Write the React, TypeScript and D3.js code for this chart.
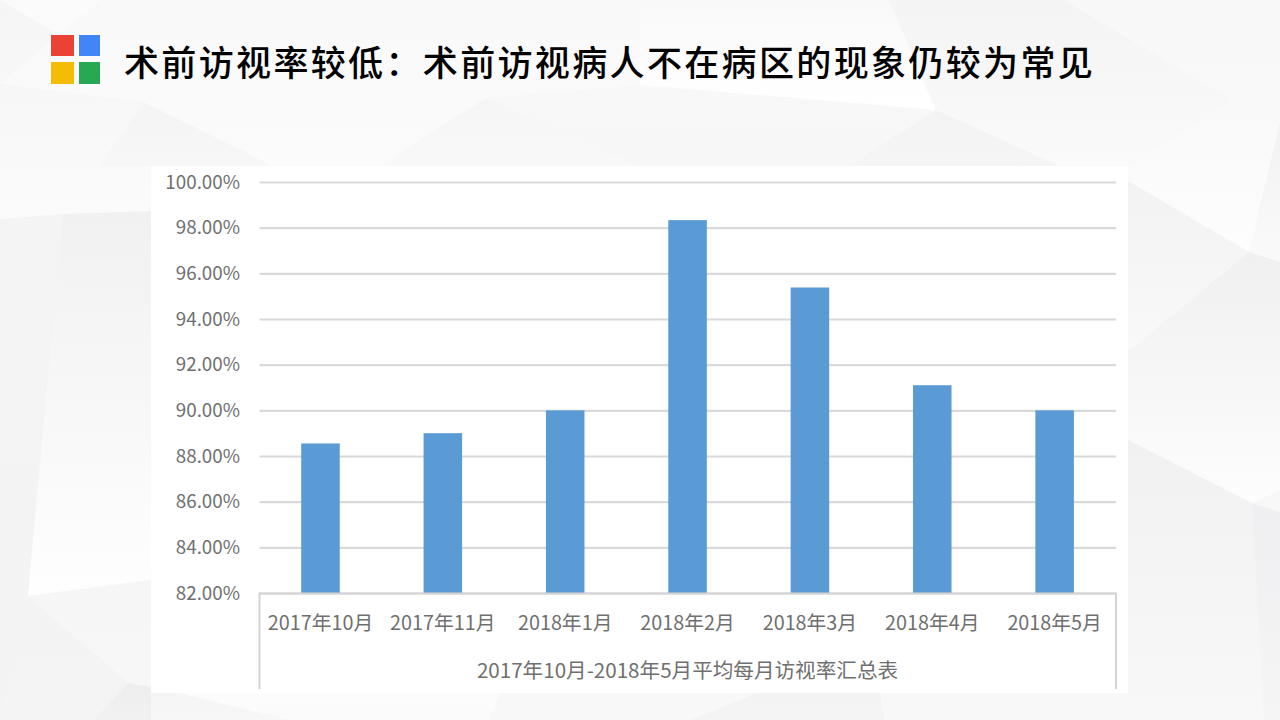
import { useEffect, useRef } from "react";
import * as d3 from "d3";

const categories = ["2017年10月", "2017年11月", "2018年1月", "2018年2月", "2018年3月", "2018年4月", "2018年5月"];
const rates = [88.55, 89.0, 90.0, 98.33, 95.38, 91.1, 90.0];
const yTicks = [82, 84, 86, 88, 90, 92, 94, 96, 98, 100];
const groupLabel = "2017年10月-2018年5月平均每月访视率汇总表";
const title = "术前访视率较低\uFF1A术前访视病人不在病区的现象仍较为常见";

// faint low-poly shapes of the slide background: top colour, bottom colour, points
const bgShapes: [string, string, string][] = [
  ["#fbfbfb", "#fbfbfb", "0,0 102,0 59,35"],
  ["#f5f5f6", "#f8f8f8", "0,0 59,35 0,84"],
  ["#f9f9f9", "#fbfbfb", "0,84 59,35 102,0 640,0 640,85 486,98 380,166 273,166 143,102"],
  ["#f7f7f7", "#fbfbfb", "0,84 143,102 273,166 151,166 151,211 0,219"],
  ["#f4f4f5", "#f7f7f7", "143,102 273,166 151,166 100,166"],
  ["#f5f5f6", "#f9f9f9", "486,98 640,166 380,166"],
  ["#f8f8f8", "#f7f7f7", "486,98 640,85 936,110 850,166 640,166"],
  ["#f9f9f9", "#ffffff", "640,0 889,0 936,110 640,85"],
  ["#f3f3f4", "#f5f5f6", "936,110 1060,166 850,166"],
  ["#f4f4f5", "#fafafa", "889,0 1064,0 1232,100 1128,166 1060,166 936,110"],
  ["#f8f8f8", "#f9f9f9", "1064,0 1280,0 1280,123 1232,100"],
  ["#f9f9f9", "#fdfdfd", "1232,100 1280,123 1249,252 1128,181 1128,166"],
  ["#f2f2f3", "#fafafa", "1280,123 1280,262 1249,252"],
  ["#f2f2f3", "#f9f9f9", "1128,181 1249,252 1128,352"],
  ["#f0f0f1", "#fdfdfd", "1249,252 1280,262 1280,491 1252,503 1128,440 1128,352"],
  ["#f1f1f2", "#f8f8f8", "1128,440 1252,503 1264,720 1128,720"],
  ["#f8f8f8", "#f8f8f8", "1252,503 1280,491 1280,512"],
  ["#efeff1", "#f5f5f6", "1252,503 1280,512 1280,720 1264,720"],
  ["#f4f4f5", "#f3f3f4", "0,219 63,214 28,596 0,720"],
  ["#f1f1f2", "#fefefe", "63,214 151,211 151,580 28,596"],
  ["#f6f6f6", "#f7f7f8", "28,596 151,580 151,692 128,683"],
  ["#f3f3f4", "#f4f4f5", "0,720 28,596 128,683 93,720"],
  ["#eeeeef", "#f1f1f2", "128,683 151,687 151,720 93,720"],
  ["#f5f5f5", "#f7f7f7", "151,692 175,692 290,720 151,720"],
  ["#fcfcfc", "#fbfbfb", "175,692 500,692 490,720 290,720"],
  ["#f8f8f8", "#f8f8f8", "500,692 759,692 690,720 490,720"],
  ["#f3f3f4", "#f4f4f4", "759,692 880,692 885,720 690,720"],
  ["#f8f8f8", "#f8f8f8", "880,692 1128,692 1128,720 885,720"],
];

export default function App() {
  const ref = useRef<SVGSVGElement | null>(null);

  useEffect(() => {
    if (!ref.current) return;
    const svg = d3.select(ref.current);
    svg.selectAll("*").remove();

    svg.append("rect").attr("width", 1280).attr("height", 720).attr("fill", "#f7f7f8");

    const defs = svg.append("defs");
    bgShapes.forEach((s, i) => {
      const grad = defs.append("linearGradient").attr("id", `bg${i}`).attr("x1", 0).attr("y1", 0).attr("x2", 0).attr("y2", 1);
      grad.append("stop").attr("offset", "0%").attr("stop-color", s[0]);
      grad.append("stop").attr("offset", "100%").attr("stop-color", s[1]);
    });
    svg.append("g")
      .selectAll("polygon")
      .data(bgShapes)
      .join("polygon")
      .attr("points", (d) => d[2])
      .attr("fill", (_, i) => `url(#bg${i})`);

    // logo squares
    const logo = svg.append("g");
    logo.append("rect").attr("x", 51).attr("y", 35).attr("width", 23).attr("height", 21).attr("fill", "#ea4335");
    logo.append("rect").attr("x", 79).attr("y", 35).attr("width", 21).attr("height", 21).attr("fill", "#4285f4");
    logo.append("rect").attr("x", 51).attr("y", 62).attr("width", 23).attr("height", 22).attr("fill", "#f4bc05");
    logo.append("rect").attr("x", 79).attr("y", 62).attr("width", 21).attr("height", 22).attr("fill", "#27a853");

    svg.append("text")
      .attr("x", 124)
      .attr("y", 75.5)
      .attr("font-family", '"Noto Sans CJK SC"')
      .attr("font-size", 35)
      .attr("font-weight", 500)
      .attr("letter-spacing", 2.35)
      .attr("fill", "#000")
      .text(title);

    // white chart panel
    svg.append("rect").attr("x", 151).attr("y", 166).attr("width", 977).attr("height", 527).attr("fill", "#fff");

    const x = d3.scaleBand<string>().domain(categories).range([259.3, 1115.8]).paddingInner(0.685).paddingOuter(0.3425);
    const y = d3.scaleLinear().domain([82, 100]).range([593, 182]);
    const fontFamily = '"Noto Sans CJK SC", sans-serif';

    // gridlines and value labels
    const yAxis = svg.append("g")
      .attr("transform", "translate(259.5,0)")
      .call(
        d3.axisLeft(y)
          .tickValues(yTicks)
          .tickSize(-(1116 - 259.5))
          .tickPadding(19.5)
          .tickFormat((d) => `${(d as number).toFixed(2)}%`)
      );
    yAxis.select(".domain").remove();
    yAxis.selectAll(".tick line").attr("stroke", "#d9d9d9").attr("stroke-width", 2.2);
    yAxis.selectAll(".tick text")
      .attr("font-family", fontFamily)
      .attr("font-size", 18.8)
      .attr("fill", "#6f6f6f");

    svg.append("g")
      .selectAll("rect")
      .data(rates)
      .join("rect")
      .attr("x", (_, i) => x(categories[i]) as number)
      .attr("y", (d) => y(d))
      .attr("width", x.bandwidth())
      .attr("height", (d) => y(82) - y(d))
      .attr("fill", "#5b9bd5");

    // multi-level category axis
    const frame = d3.path();
    frame.moveTo(259.5, 689);
    frame.lineTo(259.5, y(82) + 0.5);
    frame.lineTo(1116, y(82) + 0.5);
    frame.lineTo(1116, 689);
    svg.append("path")
      .attr("d", frame.toString())
      .attr("fill", "none")
      .attr("stroke", "#d4d4d4")
      .attr("stroke-width", 2);

    svg.append("g")
      .selectAll("text")
      .data(categories)
      .join("text")
      .attr("x", (d) => (x(d) as number) + x.bandwidth() / 2)
      .attr("y", 630)
      .attr("text-anchor", "middle")
      .attr("font-family", fontFamily)
      .attr("font-size", 19.8)
      .attr("fill", "#6f6f6f")
      .text((d) => d);

    svg.append("text")
      .attr("x", 687.5)
      .attr("y", 678)
      .attr("text-anchor", "middle")
      .attr("font-family", fontFamily)
      .attr("font-size", 20.6)
      .attr("fill", "#6f6f6f")
      .text(groupLabel);
  }, []);

  return (
    <svg
      ref={ref}
      width={1280}
      height={720}
      style={{ position: "absolute", left: 0, top: 0, display: "block" }}
    />
  );
}
